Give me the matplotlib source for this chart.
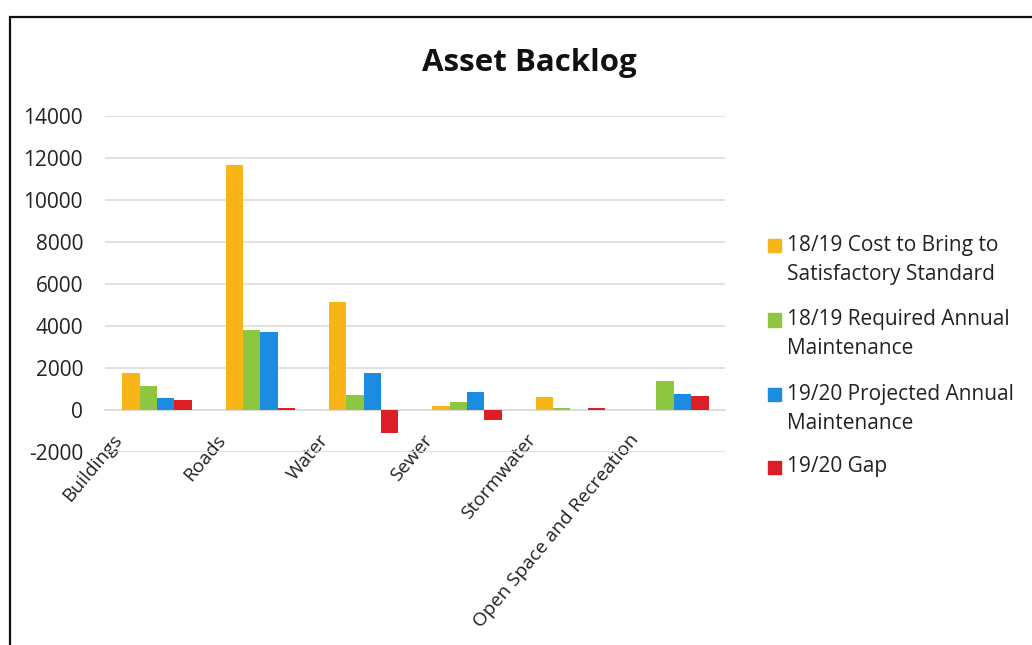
import matplotlib.pyplot as plt
import numpy as np
from matplotlib.patches import Rectangle
from matplotlib.transforms import ScaledTranslation

plt.rcParams['font.family'] = ['Open Sans', 'DejaVu Sans']
plt.rcParams['axes.unicode_minus'] = False

# Asset categories and backlog figures per series
categories = ["Buildings", "Roads", "Water", "Sewer", "Stormwater",
              "Open Space and Recreation"]
cost_to_standard = [1750, 11650, 5150, 180, 620, 20]
required_maint = [1150, 3800, 700, 400, 80, 1400]
projected_maint = [600, 3700, 1780, 850, 0, 750]
gap_1920 = [500, 120, -1100, -450, 100, 650]

series = [cost_to_standard, required_maint, projected_maint, gap_1920]
series_names = ["18/19 Cost to Bring to\nSatisfactory Standard",
                "18/19 Required Annual\nMaintenance",
                "19/20 Projected Annual\nMaintenance",
                "19/20 Gap"]
colors = ["#F9B418", "#8DC63F", "#1C8CE3", "#DC1F26"]

fig = plt.figure(figsize=(10.32, 6.45), dpi=100)
ax = fig.add_axes([0.102, 0.299, 0.601, 0.521])

x = np.arange(len(categories))
width = 0.168
for i, (vals, col) in enumerate(zip(series, colors)):
    ax.bar(x + (i - 1.5) * width, vals, width, color=col, zorder=3)

ax.set_xlim(-0.5, len(categories) - 0.5)
ax.set_ylim(-2000, 14000)
ax.set_yticks(np.arange(-2000, 14001, 2000))
ax.grid(axis='y', color='#DCDCDC', linewidth=1.2, zorder=0)

for side in ['top', 'right', 'left']:
    ax.spines[side].set_visible(False)
ax.spines['bottom'].set_position(('data', 0))
ax.spines['bottom'].set_color('#DCDCDC')
ax.spines['bottom'].set_linewidth(1.2)

ax.tick_params(axis='y', length=0, pad=16, labelsize=15, labelcolor='#222222')
ax.tick_params(axis='x', length=0, pad=15, labelsize=13.8, labelcolor='#222222')
ax.set_xticks(x)
ax.set_xticklabels(categories, rotation=50, ha='right', va='top',
                   rotation_mode='anchor')
shift = ScaledTranslation(-0.45, 0, fig.dpi_scale_trans)
for lbl in ax.get_xticklabels():
    lbl.set_transform(lbl.get_transform() + shift)

fig.text(0.513, 0.902, "Asset Backlog", ha='center', va='center',
         fontsize=22.5, fontweight='bold', color='#111111')

# legend on the right, square beside the first line of each entry
legend_y = [0.620, 0.504, 0.389, 0.276]
line_step = 0.045
for name, col, ly in zip(series_names, colors, legend_y):
    fig.patches.append(Rectangle((0.744, ly - 0.011), 0.0125, 0.021,
                                 transform=fig.transFigure, color=col))
    for k, part in enumerate(name.split('\n')):
        fig.text(0.763, ly - k * line_step, part, ha='left', va='center',
                 fontsize=15, color='#222222')

# outer chart frame
fig.patches.append(Rectangle((0.010, -0.05), 1.1, 1.024, transform=fig.transFigure,
                             fill=False, edgecolor='#111111', linewidth=1.6))

fig.savefig("out.png", dpi=100)
